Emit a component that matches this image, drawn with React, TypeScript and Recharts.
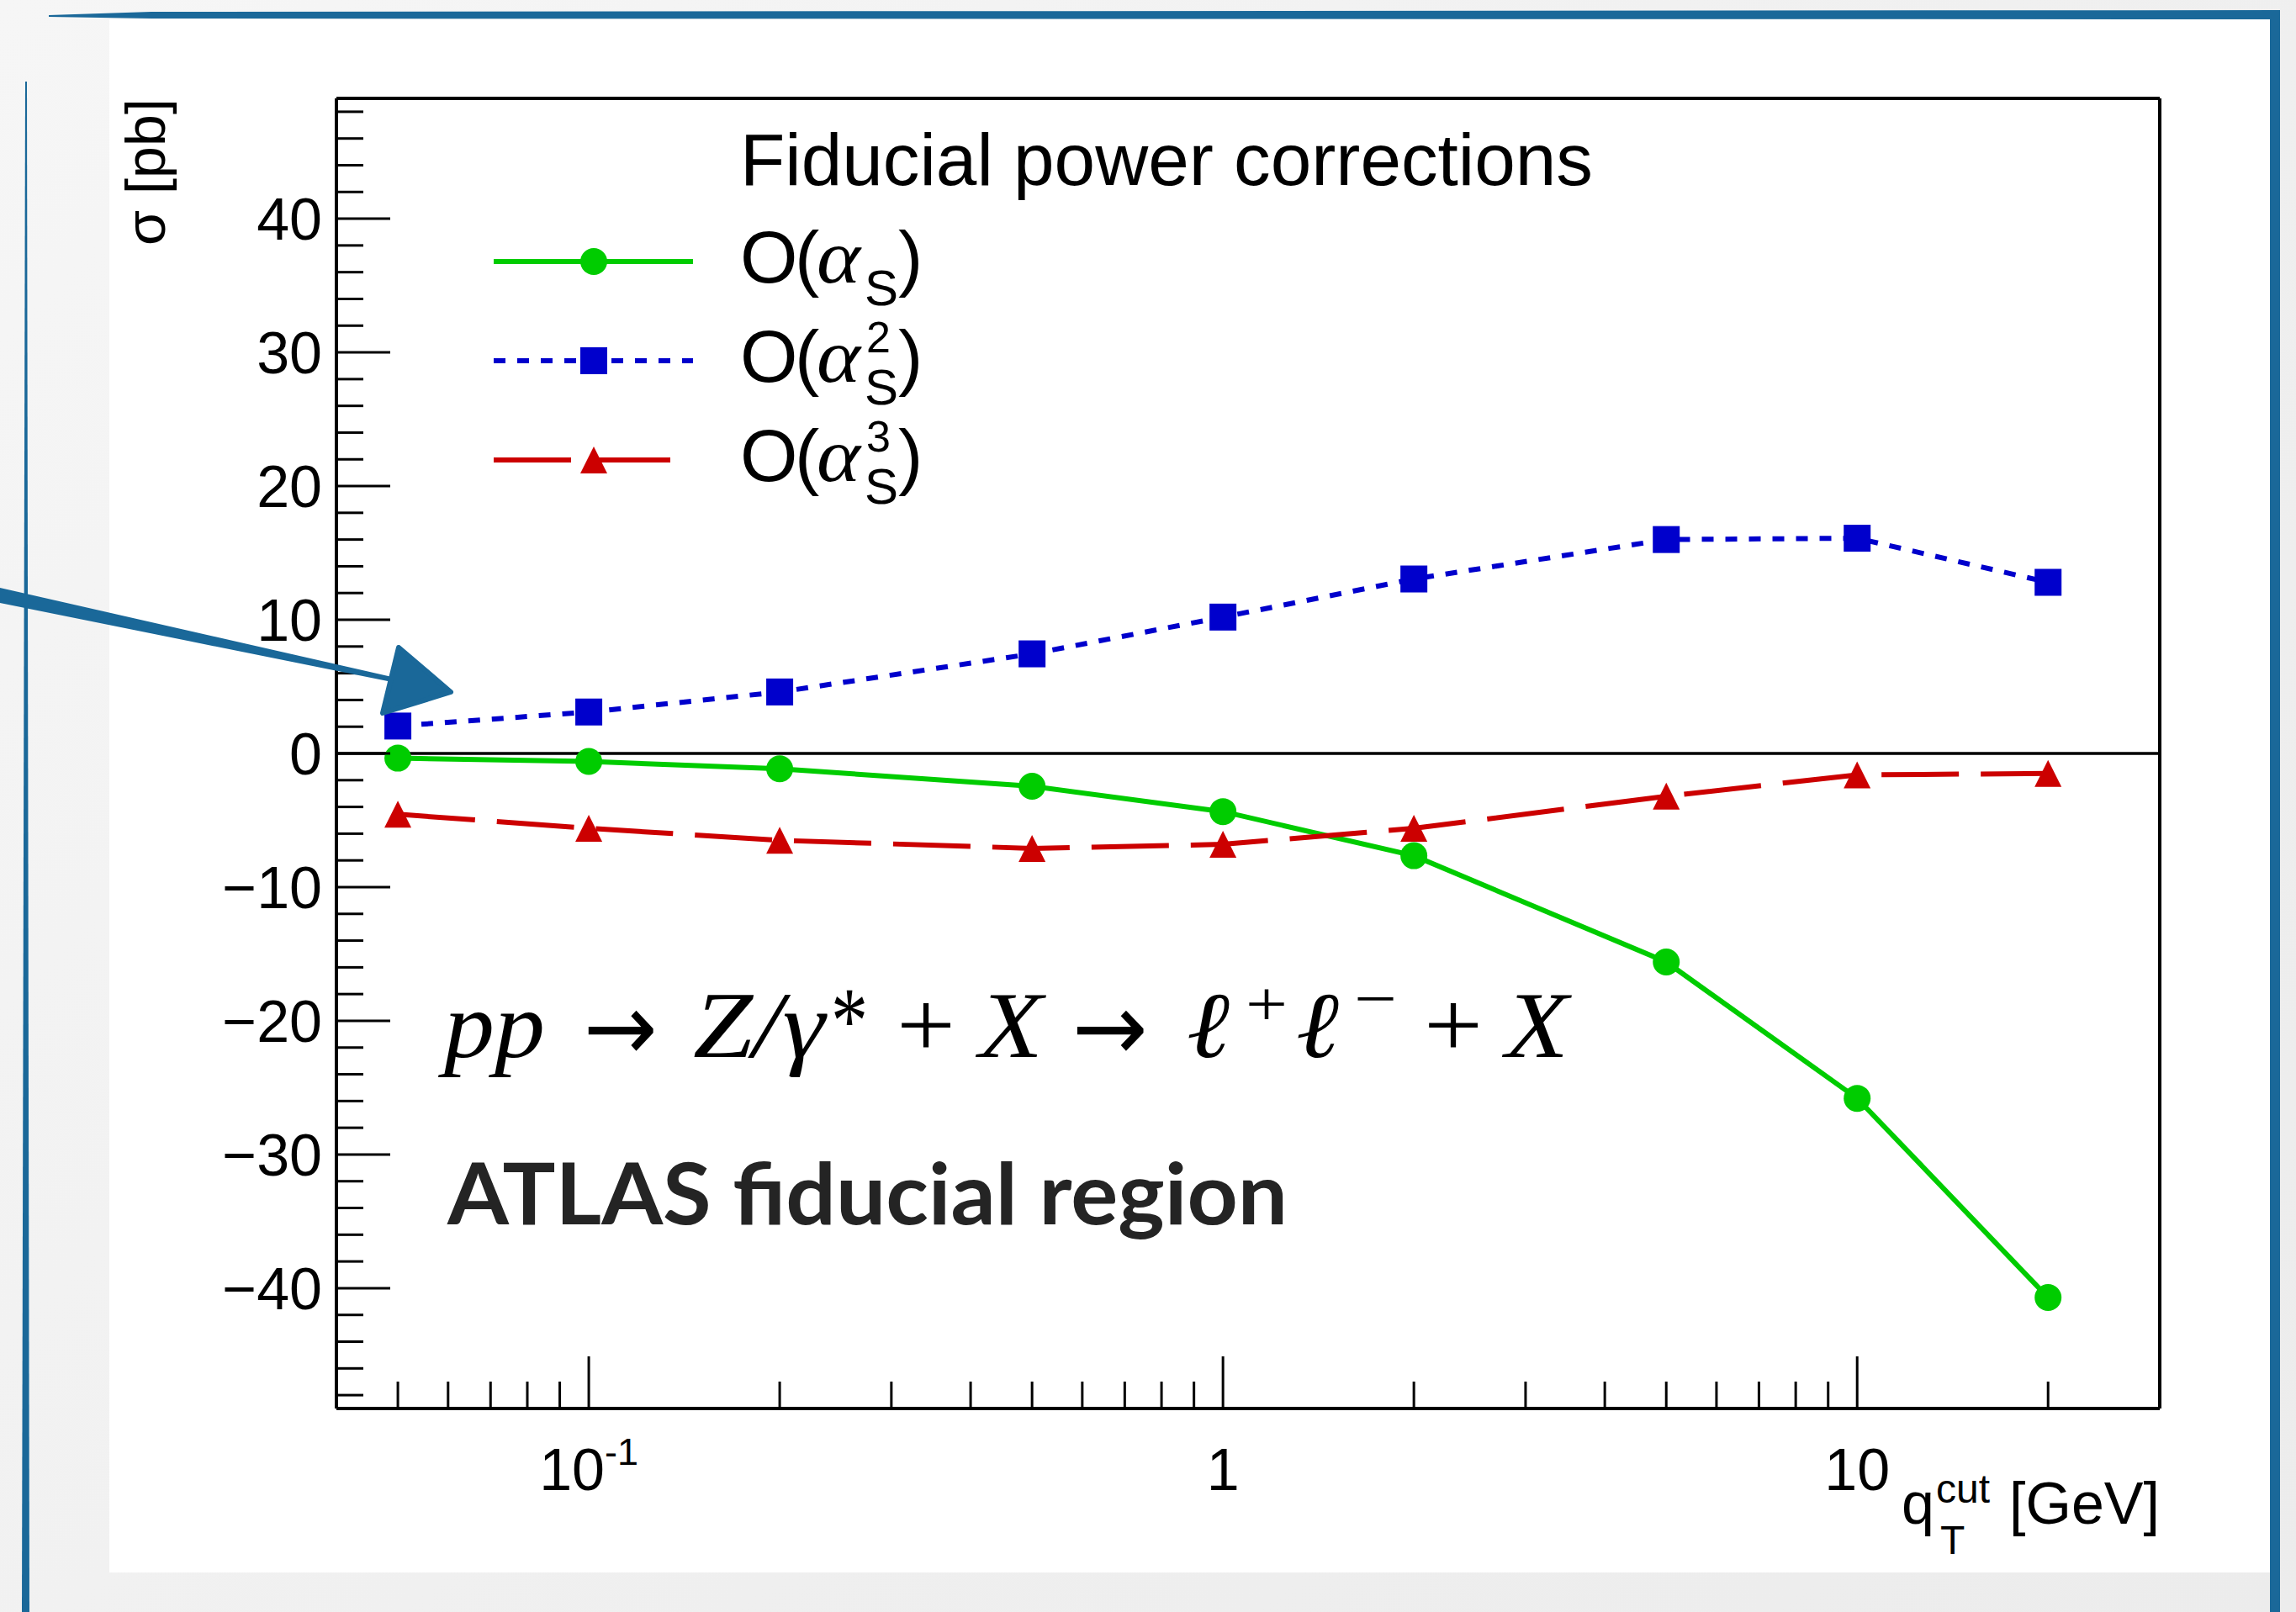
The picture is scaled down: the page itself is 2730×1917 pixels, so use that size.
import React from 'react';
import { LineChart, Line, XAxis, YAxis, ReferenceLine, Legend } from 'recharts';

// q_T^cut values (GeV) at which the power corrections are evaluated
const QT_CUT = [0.05, 0.1, 0.2, 0.5, 1, 2, 5, 10, 20];
// fiducial power corrections (pb), order by order in alpha_s
const CORR_AS1 = [-0.35, -0.6, -1.15, -2.45, -4.35, -7.65, -15.6, -25.8, -40.7];
const CORR_AS2 = [2.05, 3.1, 4.6, 7.45, 10.2, 13.05, 16.0, 16.1, 12.8];
const CORR_AS3 = [-4.55, -5.6, -6.5, -7.1, -6.8, -5.6, -3.2, -1.6, -1.5];

const X_DOMAIN: [number, number] = [0.04, 30];
const Y_DOMAIN: [number, number] = [-49, 49];
const X_TICKS = [
  0.05, 0.06, 0.07, 0.08, 0.09, 0.1, 0.2, 0.3, 0.4, 0.5, 0.6, 0.7, 0.8, 0.9,
  1, 2, 3, 4, 5, 6, 7, 8, 9, 10, 20,
];
const X_LABELS = [
  { value: 0.1, base: '10', exp: '-1' },
  { value: 1, base: '1', exp: '' },
  { value: 10, base: '10', exp: '' },
];
const Y_TICKS = [
  -48, -46, -44, -42, -40, -38, -36, -34, -32, -30, -28, -26, -24, -22, -20, -18, -16, -14, -12, -10,
  -8, -6, -4, -2, 0, 2, 4, 6, 8, 10, 12, 14, 16, 18, 20, 22, 24, 26, 28, 30, 32, 34, 36, 38, 40, 42,
  44, 46, 48,
];
const Y_MAJOR = [-40, -30, -20, -10, 0, 10, 20, 30, 40];

const SERIES = [
  { key: 'as1', name: 'O(αS)', exp: '', color: '#00cc00', dash: undefined as string | undefined, marker: 'circle' },
  { key: 'as2', name: 'O(αS2)', exp: '2', color: '#0000cc', dash: '14 14', marker: 'square' },
  { key: 'as3', name: 'O(αS3)', exp: '3', color: '#cc0000', dash: '92 26', marker: 'triangle' },
];

const rows = QT_CUT.map((q, i) => ({ q, as1: CORR_AS1[i], as2: CORR_AS2[i], as3: CORR_AS3[i] }));

const SANS = '"Liberation Sans", Arial, Helvetica, sans-serif';
const SERIF = '"Liberation Serif", "Times New Roman", serif';
const FRAME = '#1a6899';

const MARKER = 16;

function Marker({ kind, cx, cy, color }: { kind: string; cx: number; cy: number; color: string }) {
  if (kind === 'circle') return <circle cx={cx} cy={cy} r={MARKER} fill={color} />;
  if (kind === 'square')
    return <rect x={cx - MARKER} y={cy - MARKER} width={MARKER * 2} height={MARKER * 2} fill={color} />;
  return (
    <polygon
      points={`${cx},${cy - MARKER} ${cx + MARKER},${cy + MARKER} ${cx - MARKER},${cy + MARKER}`}
      fill={color}
    />
  );
}

const makeDot = (kind: string, color: string) => (p: any) => (
  <Marker key={`${kind}-${p.index}`} kind={kind} cx={p.cx} cy={p.cy} color={color} />
);

function XTick(props: any) {
  const { x, y, payload } = props;
  const v = payload.value;
  const lab = X_LABELS.find((l) => Math.abs(l.value - v) < 1e-9);
  return (
    <g>
      <line x1={x} x2={x} y1={y} y2={y - (lab ? 62 : 32)} stroke="#000" strokeWidth={3} />
      {lab && (
        <text x={x} y={y + 97} textAnchor="middle" fontFamily={SANS} fontSize={70} fill="#000">
          {lab.base}
          {lab.exp && (
            <tspan dy={-30} fontSize={45}>
              {lab.exp}
            </tspan>
          )}
        </text>
      )}
    </g>
  );
}

function YTick(props: any) {
  const { x, y, payload } = props;
  const v = payload.value;
  const major = Y_MAJOR.includes(v);
  return (
    <g>
      <line x1={x} x2={x + (major ? 64 : 32)} y1={y} y2={y} stroke="#000" strokeWidth={3} />
      {major && (
        <text x={x - 17} y={y + 25} textAnchor="end" fontFamily={SANS} fontSize={70} fill="#000">
          {v < 0 ? `\u2212${Math.abs(v)}` : `${v}`}
        </text>
      )}
    </g>
  );
}

function LegendBox() {
  return (
    <svg width={1400} height={500} style={{ display: 'block', overflow: 'visible' }}>
      <g transform="translate(-560,-120)">
        <text x={880} y={220} fontFamily={SANS} fontSize={88} textLength={1014} lengthAdjust="spacingAndGlyphs" fill="#000">
          Fiducial power corrections
        </text>
        {SERIES.map((s, i) => {
          const base = 336 + i * 118;
          const sy = base - 25;
          return (
            <g key={s.key}>
              <line
                x1={587}
                x2={s.marker === 'triangle' ? 803 : 824}
                y1={sy}
                y2={sy}
                stroke={s.color}
                strokeWidth={6}
                strokeDasharray={s.dash}
              />
              <Marker kind={s.marker} cx={706} cy={sy} color={s.color} />
              <text y={base} fontFamily={SANS} fontSize={88} fill="#000">
                <tspan x={880}>O</tspan>
                <tspan x={945}>(</tspan>
              </text>
              <text x={971} y={base} fontFamily={SERIF} fontStyle="italic" fontSize={90} textLength={52} lengthAdjust="spacingAndGlyphs" fill="#000">
                α
              </text>
              <text x={1028} y={base + 27} fontFamily={SANS} fontSize={60} fill="#000">
                S
              </text>
              {s.exp && (
                <text x={1030} y={base - 35} fontFamily={SANS} fontSize={52} fill="#000">
                  {s.exp}
                </text>
              )}
              <text x={1068} y={base} fontFamily={SANS} fontSize={88} fill="#000">
                )
              </text>
            </g>
          );
        })}
      </g>
    </svg>
  );
}

function Overlay() {
  const fs = 112;
  const base = 1257;
  const it = { fontFamily: SERIF, fontStyle: 'italic' as const, fontSize: fs, fill: '#000' };
  const up = { fontFamily: SERIF, fontSize: fs, fill: '#000' };
  const arrow = { fontFamily: '"DejaVu Sans", sans-serif', fontSize: fs, fill: '#000' };
  return (
    <svg
      width={2730}
      height={1917}
      style={{ position: 'absolute', left: 0, top: 0, pointerEvents: 'none' }}
    >
      {/* hand-drawn frame around the slide panel */}
      <polygon points="58,18 180,14 2711,12 2711,23 180,22 58,20" fill={FRAME} />
      <rect x={2699} y={12} width={12} height={1905} fill={FRAME} />
      <polygon points="30,97 32,97 35,1917 26,1917" fill={FRAME} />
      {/* pointer arrow */}
      <polygon points="0,699 466,805 466,811 0,717" fill={FRAME} />
      <polygon
        points="474,770 536,823 455,848"
        fill={FRAME}
        stroke={FRAME}
        strokeWidth={6}
        strokeLinejoin="round"
      />

      {/* axis titles */}
      <text
        transform="translate(196,117) rotate(-90)"
        textAnchor="end"
        fontFamily={SANS}
        fontSize={66}
        textLength={175}
        lengthAdjust="spacingAndGlyphs"
        fill="#000"
      >
        σ [pb]
      </text>
      <text x={2261} y={1812} fontFamily={SANS} fontSize={70} fill="#000">q</text>
      <text x={2302} y={1787} fontFamily={SANS} fontSize={48} fill="#000">cut</text>
      <text x={2307} y={1848} fontFamily={SANS} fontSize={48} fill="#000">T</text>
      <text x={2389} y={1812} fontFamily={SANS} fontSize={70} textLength={179} lengthAdjust="spacingAndGlyphs" fill="#000">
        [GeV]
      </text>

      {/* process label */}
      <text x={528} y={base} {...it} textLength={120} lengthAdjust="spacingAndGlyphs">pp</text>
      <text x={694} y={base + 4} {...arrow} textLength={88} lengthAdjust="spacingAndGlyphs">→</text>
      <text x={824} y={base} {...it} textLength={157} lengthAdjust="spacingAndGlyphs">Z/γ</text>
      <text x={988} y={base - 6} {...up} textLength={44} lengthAdjust="spacingAndGlyphs">*</text>
      <text x={1066} y={base} {...up} textLength={70} lengthAdjust="spacingAndGlyphs">+</text>
      <text x={1164} y={base} {...it} textLength={76} lengthAdjust="spacingAndGlyphs">X</text>
      <text x={1275} y={base + 4} {...arrow} textLength={90} lengthAdjust="spacingAndGlyphs">→</text>
      <text x={1411} y={base} {...it} textLength={51} lengthAdjust="spacingAndGlyphs">ℓ</text>
      <text x={1481} y={1219} {...up} fontSize={76} textLength={50} lengthAdjust="spacingAndGlyphs">+</text>
      <text x={1541} y={base} {...it} textLength={51} lengthAdjust="spacingAndGlyphs">ℓ</text>
      <text x={1610} y={1213} {...up} fontSize={76} textLength={51} lengthAdjust="spacingAndGlyphs">−</text>
      <text x={1693} y={base} {...up} textLength={70} lengthAdjust="spacingAndGlyphs">+</text>
      <text x={1790} y={base} {...it} textLength={75} lengthAdjust="spacingAndGlyphs">X</text>

      <text
        x={532}
        y={1456}
        fontFamily="Lato, 'Open Sans', sans-serif"
        fontWeight={700}
        fontSize={101}
        textLength={999}
        lengthAdjust="spacingAndGlyphs"
        fill="#242424"
      >
        ATLAS fiducial region
      </text>
    </svg>
  );
}

export default function App() {
  return (
    <div
      style={{
        position: 'absolute',
        left: 0,
        top: 0,
        width: 2730,
        height: 1917,
        overflow: 'hidden',
        background: 'linear-gradient(135deg, #f6f6f6 0%, #efefef 60%, #ececec 100%)',
      }}
    >
      <div style={{ position: 'absolute', left: 130, top: 23, width: 2569, height: 1847, background: '#ffffff' }} />
      <div style={{ position: 'absolute', left: 0, top: 0 }}>
        <LineChart width={2730} height={1917} data={rows} margin={{ top: 116, right: 161, bottom: 241, left: 399 }}>
          <XAxis
            dataKey="q"
            type="number"
            scale="log"
            domain={X_DOMAIN}
            allowDataOverflow
            ticks={X_TICKS}
            interval={0}
            tick={(p: any) => <XTick {...p} />}
            tickLine={false}
            tickSize={0}
            tickMargin={0}
            height={1}
            axisLine={{ stroke: '#000', strokeWidth: 4 }}
          />
          <XAxis
            xAxisId="top"
            orientation="top"
            type="number"
            domain={[0, 1]}
            tick={false}
            tickLine={false}
            height={1}
            axisLine={{ stroke: '#000', strokeWidth: 4 }}
          />
          <YAxis
            type="number"
            domain={Y_DOMAIN}
            allowDataOverflow
            ticks={Y_TICKS}
            interval={0}
            tick={(p: any) => <YTick {...p} />}
            tickLine={false}
            tickSize={0}
            tickMargin={0}
            width={1}
            axisLine={{ stroke: '#000', strokeWidth: 4 }}
          />
          <YAxis
            yAxisId="right"
            orientation="right"
            type="number"
            domain={[0, 1]}
            tick={false}
            tickLine={false}
            width={1}
            axisLine={{ stroke: '#000', strokeWidth: 4 }}
          />
          <ReferenceLine y={0} stroke="#000" strokeWidth={3.5} />
          {SERIES.map((s) => (
            <Line
              key={s.key}
              dataKey={s.key}
              name={s.name}
              stroke={s.color}
              strokeWidth={6}
              strokeDasharray={s.dash}
              dot={makeDot(s.marker, s.color)}
              activeDot={false}
              isAnimationActive={false}
            />
          ))}
          <Legend
            layout="horizontal"
            verticalAlign="middle"
            align="center"
            content={() => <LegendBox />}
            wrapperStyle={{ left: 560, top: 120, width: 1400, height: 500 }}
          />
        </LineChart>
      </div>
      <Overlay />
    </div>
  );
}
